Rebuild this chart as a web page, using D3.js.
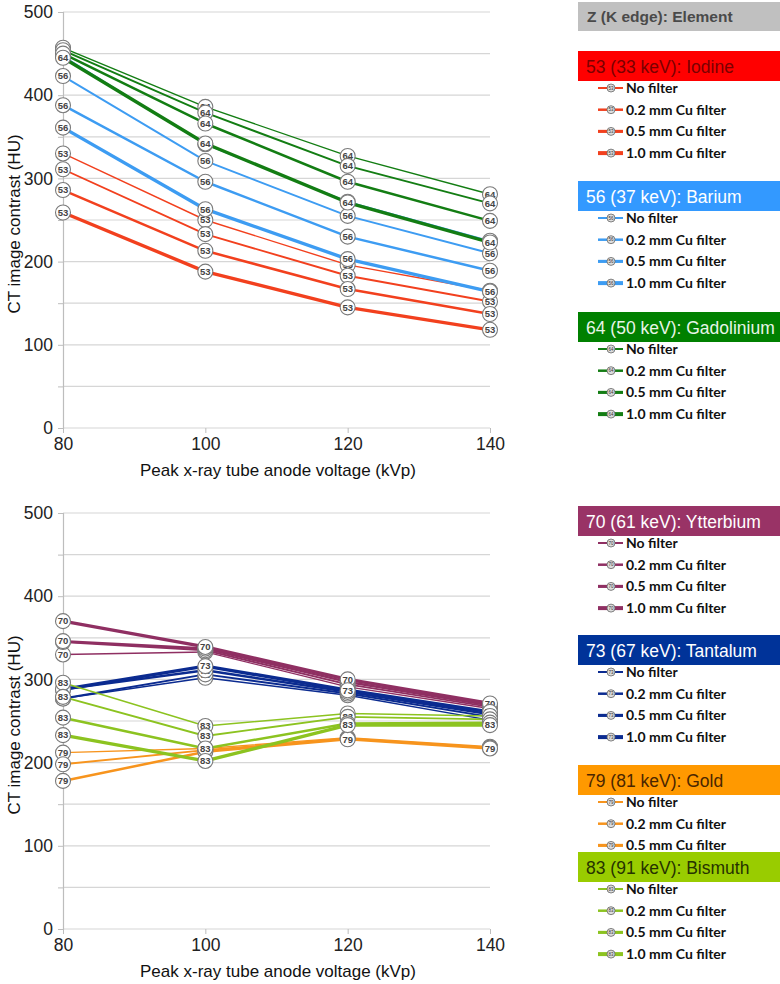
<!DOCTYPE html>
<html>
<head>
<meta charset="utf-8">
<script src="https://cdn.jsdelivr.net/npm/d3@7"></script>
<style>
  body { margin: 0; background: #fff; }
  svg { display: block; font-family: "Liberation Sans", Arial, sans-serif; }
</style>
</head>
<body>
<svg id="chart" width="780" height="984"></svg>
<script>
// data
var kvp = [80, 100, 120, 140];
var filters = ["No filter", "0.2 mm Cu filter", "0.5 mm Cu filter", "1.0 mm Cu filter"];
var yTicks = [0, 100, 200, 300, 400, 500];

// top panel
var iodine = [[330, 250, 196, 165], [311, 233, 183, 152], [286, 213, 167, 137], [259, 188, 145, 118]];
var barium = [[447, 341, 272, 225], [423, 321, 255, 210], [388, 296, 230, 189], [361, 263, 203, 164]];
var gadolinium = [[457, 386, 327, 281], [454, 379, 315, 270], [450, 366, 296, 249], [445, 342, 271, 223]];

// bottom panel
var ytterbium = [[330, 333, 291, 265], [345, 335, 294, 267], [346, 337, 297, 269], [370, 339, 300, 271]];
var tantalum = [[277, 302, 281, 251], [277, 306, 283, 255], [288, 311, 285, 258], [288, 316, 287, 261]];
var gold = [[212, 217, 230, 219], [198, 215, 229, 218], [178, 213, 228, 217]];
var bismuth = [[296, 244, 259, 256], [279, 232, 255, 252], [254, 217, 247, 248], [233, 202, 245, 245]];

var elements = [
  { z: 53, label: "53 (33 keV): Iodine", data: iodine },
  { z: 56, label: "56 (37 keV): Barium", data: barium },
  { z: 64, label: "64 (50 keV): Gadolinium", data: gadolinium },
  { z: 70, label: "70 (61 keV): Ytterbium", data: ytterbium },
  { z: 73, label: "73 (67 keV): Tantalum", data: tantalum },
  { z: 79, label: "79 (81 keV): Gold", data: gold },
  { z: 83, label: "83 (91 keV): Bismuth", data: bismuth }
];

// styles
var lineColor = { 53: "#f2401e", 56: "#3d9cf2", 64: "#137d13", 70: "#8f2f62", 73: "#0b2b90", 79: "#f7941d", 83: "#8cc320" };
var boxColor = { 53: "#ff0000", 56: "#3399ff", 64: "#008000", 70: "#993366", 73: "#003399", 79: "#ff9900", 83: "#99cc00" };
var boxText = { 53: "#7a0000", 56: "#ffffff", 64: "#e8f5e8", 70: "#ffffff", 73: "#ffffff", 79: "#4a2600", 83: "#263300" };
var widths = [1.4, 1.9, 2.5, 3.4];

var svg = d3.select("#chart");

var x = d3.scaleLinear().domain([80, 140]).range([63, 490]);

var panels = [
  { top: 12, bottom: 428, els: elements.slice(0, 3) },
  { top: 513, bottom: 929, els: elements.slice(3) }
];

panels.forEach(function(p) {
  var y = d3.scaleLinear().domain([0, 500]).range([p.bottom, p.top]);
  var g = svg.append("g");

  // grid every 50
  g.selectAll(".grid").data(d3.range(0, 501, 50)).enter().append("line")
    .attr("x1", x(80)).attr("x2", x(140))
    .attr("y1", function(d) { return y(d); }).attr("y2", function(d) { return y(d); })
    .attr("stroke", "#d6d6d6").attr("stroke-width", 1.2);

  var yAxis = g.append("g").attr("transform", "translate(" + x(80) + ",0)")
    .call(d3.axisLeft(y).tickValues(d3.range(0, 501, 50)).tickSize(5)
      .tickFormat(function(d) { return yTicks.indexOf(d) >= 0 ? d : ""; }));
  yAxis.select(".domain").attr("stroke", "#bdbdbd").attr("stroke-width", 1.2);
  yAxis.selectAll(".tick line").attr("stroke", "#bdbdbd");
  yAxis.selectAll("text").attr("font-size", 17.5).attr("fill", "#222").attr("x", -10)
    .attr("font-family", "'Liberation Sans', Arial, sans-serif");

  var xAxis = g.append("g").attr("transform", "translate(0," + p.bottom + ")")
    .call(d3.axisBottom(x).tickValues(kvp).tickSize(5).tickFormat(d3.format("d")));
  xAxis.select(".domain").remove();
  xAxis.selectAll(".tick line").attr("stroke", "#bdbdbd");
  xAxis.selectAll("text").attr("font-size", 17.5).attr("fill", "#222").attr("y", 10)
    .attr("font-family", "'Liberation Sans', Arial, sans-serif");

  g.append("text")
    .attr("x", 278).attr("y", p.bottom + 48)
    .attr("text-anchor", "middle").attr("font-size", 17).attr("fill", "#111")
    .text("Peak x-ray tube anode voltage (kVp)");

  g.append("text")
    .attr("transform", "translate(20," + ((p.top + p.bottom) / 2 + 4) + ") rotate(-90)")
    .attr("text-anchor", "middle").attr("font-size", 17).attr("fill", "#111")
    .text("CT image contrast (HU)");

  var line = d3.line()
    .x(function(d, i) { return x(kvp[i]); })
    .y(function(d) { return y(d); });

  p.els.forEach(function(el) {
    el.data.forEach(function(s, k) {
      g.append("path").datum(s)
        .attr("d", line)
        .attr("fill", "none")
        .attr("stroke", lineColor[el.z])
        .attr("stroke-width", widths[k])
        .attr("stroke-linejoin", "round");
    });
  });

  p.els.forEach(function(el) {
    el.data.forEach(function(s) {
      var m = g.selectAll(null).data(s).enter().append("g")
        .attr("transform", function(d, i) { return "translate(" + x(kvp[i]) + "," + y(d) + ")"; });
      m.append("circle").attr("r", 7.5)
        .attr("fill", "#fff").attr("stroke", "#7a7a7a").attr("stroke-width", 1.1);
      m.append("text").attr("text-anchor", "middle").attr("dy", "0.35em")
        .attr("font-size", 9.5).attr("font-weight", "bold").attr("fill", "#444")
        .text(el.z);
    });
  });
});

// legend
var lg = svg.append("g");
lg.append("rect").attr("x", 578).attr("y", 2).attr("width", 202).attr("height", 29).attr("fill", "#c0c0c0");
lg.append("text").attr("x", 587).attr("y", 22).attr("font-size", 15.5).attr("font-weight", "bold")
  .attr("fill", "#4a4a4a").text("Z (K edge):  Element");

var headerY = { 53: 51, 56: 181, 64: 312, 70: 506, 73: 635, 79: 765, 83: 852 };

elements.forEach(function(el) {
  var top = headerY[el.z];
  lg.append("rect").attr("x", 578).attr("y", top).attr("width", 202).attr("height", 30)
    .attr("fill", boxColor[el.z]);
  lg.append("text").attr("x", 586).attr("y", top + 21.5).attr("font-size", 17.5)
    .attr("fill", boxText[el.z]).text(el.label);

  el.data.forEach(function(s, k) {
    var ry = top + 37 + k * 21.7;
    lg.append("line").attr("x1", 598).attr("x2", 623).attr("y1", ry).attr("y2", ry)
      .attr("stroke", lineColor[el.z]).attr("stroke-width", widths[k] + 0.6);
    lg.append("circle").attr("cx", 611).attr("cy", ry).attr("r", 4)
      .attr("fill", "#ddd").attr("stroke", "#666").attr("stroke-width", 0.8);
    lg.append("text").attr("x", 611).attr("y", ry + 1.7).attr("text-anchor", "middle")
      .attr("font-size", 4.5).attr("fill", "#333").text(el.z);
    lg.append("text").attr("x", 626).attr("y", ry + 5).attr("font-size", 14)
      .attr("font-weight", "bold").attr("font-family", "Lato, sans-serif")
      .attr("fill", "#111").text(filters[k]);
  });
});
</script>
</body>
</html>
